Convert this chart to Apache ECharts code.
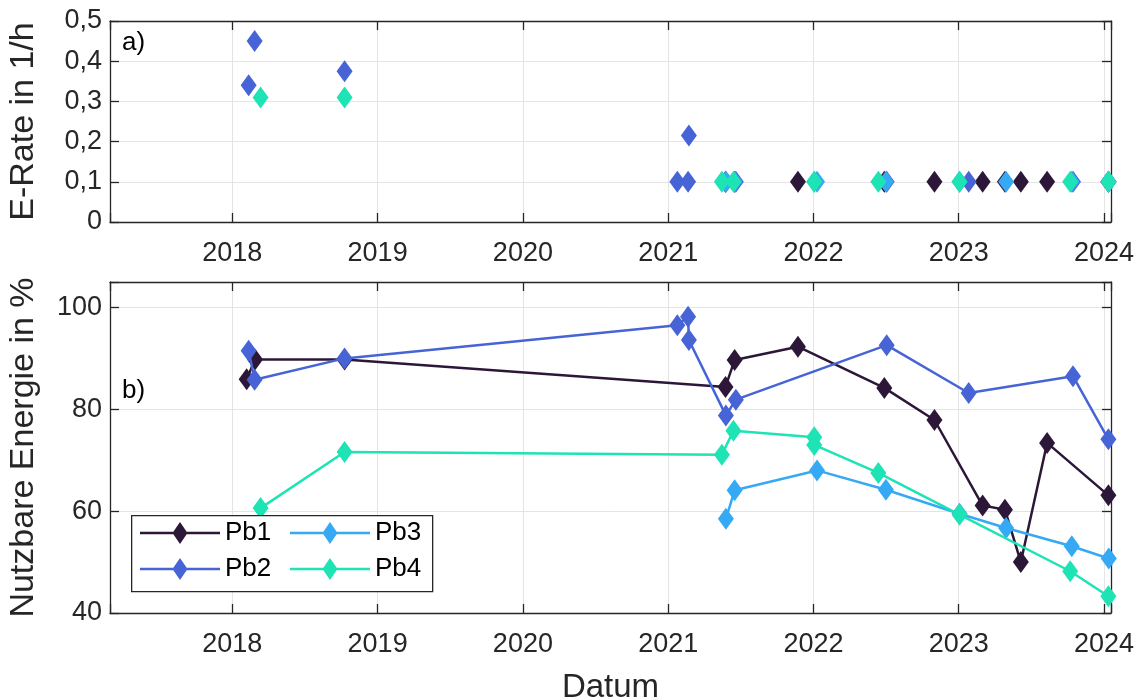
<!DOCTYPE html>
<html>
<head>
<meta charset="utf-8">
<script src="https://cdn.jsdelivr.net/npm/echarts@6/dist/echarts.min.js"></script>
<style>
html,body{margin:0;padding:0;background:#fff;}
#chart{width:1139px;height:700px;}
</style>
</head>
<body>
<div id="chart"></div>
<script>
// ---------- data ----------
const seriesNames = ['Pb1', 'Pb2', 'Pb3', 'Pb4'];

const pb1Dates  = ['2018-02-06','2018-02-27','2018-10-10','2021-05-25','2021-06-17','2021-11-23','2022-06-28','2022-11-01','2023-03-02','2023-04-27','2023-06-06','2023-08-11','2024-01-12'];
const pb1Energy = [85.9, 89.8, 89.8, 84.4, 89.7, 92.3, 84.2, 77.9, 61.1, 60.3, 50.0, 73.4, 63.1];
const pb1Rate   = [null, null, null, 0.1, 0.1, 0.1, 0.1, 0.1, 0.1, 0.1, 0.1, 0.1, 0.1];

const pb2Dates  = ['2018-02-11','2018-02-26','2018-10-10','2021-01-24','2021-02-20','2021-02-22','2021-05-26','2021-06-20','2022-07-04','2023-01-26','2023-10-15','2024-01-12'];
const pb2Energy = [91.5, 85.8, 90.0, 96.5, 98.2, 93.6, 78.8, 81.9, 92.6, 83.2, 86.5, 74.1];
const pb2Rate   = [0.34, 0.45, 0.375, 0.1, 0.1, 0.215, 0.1, 0.1, 0.1, 0.1, 0.1, 0.1];

const pb3Dates  = ['2021-05-26','2021-06-17','2022-01-10','2022-07-02','2023-01-03','2023-04-30','2023-10-12','2024-01-13'];
const pb3Energy = [58.5, 64.1, 68.0, 64.2, 59.5, 56.7, 53.1, 50.7];
const pb3Rate   = [0.1, 0.1, 0.1, 0.1, 0.1, 0.1, 0.1, 0.1];

const pb4Dates  = ['2018-03-13','2018-10-10','2021-05-16','2021-06-14','2022-01-03','2022-01-03','2022-06-13','2023-01-03','2023-10-08','2024-01-12'];
const pb4Energy = [60.6, 71.6, 71.1, 75.8, 74.5, 73.0, 67.5, 59.3, 48.2, 43.3];
const pb4Rate   = [0.31, 0.31, 0.1, 0.1, 0.1, 0.1, 0.1, 0.1, 0.1, 0.1];

const rateTicks   = [0, 0.1, 0.2, 0.3, 0.4, 0.5];
const energyTicks = [40, 60, 80, 100];
const yearTicks   = [2018, 2019, 2020, 2021, 2022, 2023, 2024];

// ---------- helpers ----------
function toYear(s) {
  const p = s.split('-').map(Number);
  const y = p[0];
  const t = Date.UTC(y, p[1] - 1, p[2]);
  const a = Date.UTC(y, 0, 1), b = Date.UTC(y + 1, 0, 1);
  return y + (t - a) / (b - a);
}
function pairs(dates, vals) {
  return dates.map((d, i) => vals[i] == null ? null : [toYear(d), vals[i]]).filter(v => v);
}

const colors = ['#2c1739', '#4664d6', '#35a9f4', '#1ee3b4'];
const allDates = [pb1Dates, pb2Dates, pb3Dates, pb4Dates];
const allEnergy = [pb1Energy, pb2Energy, pb3Energy, pb4Energy];
const allRate = [pb1Rate, pb2Rate, pb3Rate, pb4Rate];

const XMIN = 2017.158, XMAX = 2024.048;
const FONT = '"Liberation Sans", Arial, sans-serif';
const AX = '#262626';
const GRIDC = '#e4e4e4';
const LBL = 27;

function yearFmt(v) {
  const r = Math.round(v);
  return (Math.abs(v - r) < 1e-6 && yearTicks.indexOf(r) >= 0) ? String(r) : '';
}
function rateFmt(v) {
  const r = Math.round(v * 10) / 10;
  if (Math.abs(v - r) > 1e-6 || rateTicks.indexOf(r) < 0) return '';
  return r === 0 ? '0' : r.toFixed(1).replace('.', ',');
}
function energyFmt(v) {
  return energyTicks.indexOf(v) >= 0 ? String(v) : '';
}

function xAx(grid, pos, labels, name) {
  return {
    gridIndex: grid, type: 'value', position: pos, min: XMIN, max: XMAX, splitNumber: 7,
    axisLine: { show: true, onZero: false, lineStyle: { color: AX, width: 1.3 } },
    axisTick: { show: true, inside: true, length: 9, lineStyle: { color: AX, width: 1.3 } },
    axisLabel: { show: labels, formatter: yearFmt, color: AX, fontSize: LBL, fontFamily: FONT, margin: 18 },
    splitLine: { show: labels, lineStyle: { color: GRIDC, width: 1 } },
    name: name || '', nameLocation: 'middle', nameGap: 58,
    nameTextStyle: { color: AX, fontSize: 33, fontFamily: FONT }
  };
}
function yAx(grid, pos, labels, min, max, interval, fmt, name) {
  return {
    gridIndex: grid, type: 'value', position: pos, min: min, max: max, interval: interval,
    axisLine: { show: true, onZero: false, lineStyle: { color: AX, width: 1.3 } },
    axisTick: { show: true, inside: true, length: 9, lineStyle: { color: AX, width: 1.3 } },
    axisLabel: { show: labels, formatter: fmt, color: AX, fontSize: LBL, fontFamily: FONT, margin: 8 },
    splitLine: { show: labels, lineStyle: { color: GRIDC, width: 1 } },
    name: name || '', nameLocation: 'middle', nameGap: 69,
    nameTextStyle: { color: AX, fontSize: 34, fontFamily: FONT }
  };
}

const series = [];
seriesNames.forEach((n, i) => {
  series.push({
    name: n, type: 'line', xAxisIndex: 2, yAxisIndex: 2,
    symbol: 'diamond', symbolSize: [16, 22], showAllSymbol: true,
    itemStyle: { color: colors[i], opacity: 1 },
    lineStyle: { color: colors[i], width: 2.5 },
    data: pairs(allDates[i], allEnergy[i]), z: 3 + i
  });
});
seriesNames.forEach((n, i) => {
  series.push({
    name: n, type: 'scatter', xAxisIndex: 0, yAxisIndex: 0,
    symbol: 'diamond', symbolSize: [16, 22],
    itemStyle: { color: colors[i], opacity: 1 },
    data: pairs(allDates[i], allRate[i]), z: 3 + i
  });
});

const ICON = 'path://M0,10.75L80,10.75L80,13.25L0,13.25Z M40,1L47.5,12L40,23L32.5,12Z';
const legendCommon = {
  orient: 'vertical', top: 520, itemWidth: 80, itemHeight: 24, itemGap: 10,
  textStyle: { color: '#000', fontSize: 26, fontFamily: FONT },
  selectedMode: false, z: 20, padding: 0
};

const option = {
  animation: false,
  backgroundColor: '#ffffff',
  grid: [
    { left: 110, right: 28, top: 21, height: 201, outerBoundsMode: 'none', containLabel: false },
    { left: 110, right: 28, top: 282, height: 331, outerBoundsMode: 'none', containLabel: false }
  ],
  xAxis: [
    xAx(0, 'bottom', true),
    xAx(0, 'top', false),
    xAx(1, 'bottom', true, 'Datum'),
    xAx(1, 'top', false)
  ],
  yAxis: [
    yAx(0, 'left', true, 0, 0.5, 0.1, rateFmt, 'E-Rate in 1/h'),
    yAx(0, 'right', false, 0, 0.5, 0.1, rateFmt),
    yAx(1, 'left', true, 40, 105, 20, energyFmt, 'Nutzbare Energie in %'),
    yAx(1, 'right', false, 40, 105, 20, energyFmt)
  ],
  legend: [
    Object.assign({}, legendCommon, { left: 140, data: [{ name: 'Pb1', icon: ICON }, { name: 'Pb2', icon: ICON }] }),
    Object.assign({}, legendCommon, { left: 290, data: [{ name: 'Pb3', icon: ICON }, { name: 'Pb4', icon: ICON }] })
  ],
  graphic: [
    { type: 'rect', left: 131, top: 515, z: 15, shape: { width: 301, height: 76 },
      style: { fill: '#fff', stroke: AX, lineWidth: 1.3 } },
    { type: 'text', left: 122, top: 30, z: 15,
      style: { text: 'a)', fill: '#000', font: '26px "Liberation Sans", Arial, sans-serif' } },
    { type: 'text', left: 122, top: 378, z: 15,
      style: { text: 'b)', fill: '#000', font: '26px "Liberation Sans", Arial, sans-serif' } }
  ],
  series: series
};

const chart = echarts.init(document.getElementById('chart'), null, { renderer: 'canvas' });
chart.setOption(option);
</script>
</body>
</html>
